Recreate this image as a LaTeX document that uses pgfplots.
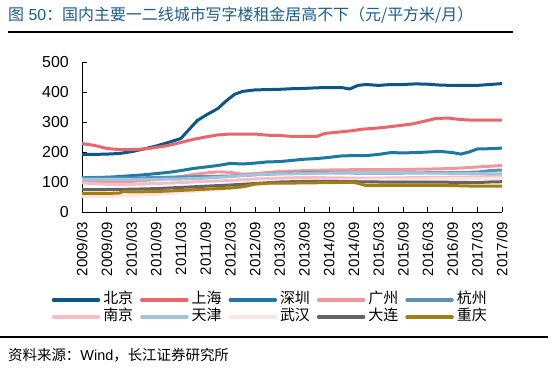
\documentclass[border=0pt]{standalone}
\usepackage{pgfplots}
\pgfplotsset{compat=1.18}
\usepackage{fontspec}
\setmainfont{Liberation Sans}
\newfontfamily\cjk{Noto Sans CJK SC}
\definecolor{cBJ}{HTML}{0D5688}
\definecolor{cSH}{HTML}{E9666B}
\definecolor{cSZ}{HTML}{1F78A4}
\definecolor{cGZ}{HTML}{F1979C}
\definecolor{cHZ}{HTML}{5D93B6}
\definecolor{cNJ}{HTML}{F6BDC5}
\definecolor{cTJ}{HTML}{A0C4DB}
\definecolor{cWH}{HTML}{FBE3E6}
\definecolor{cDL}{HTML}{646464}
\definecolor{cCQ}{HTML}{A57C10}
\definecolor{cTitle}{HTML}{1A5C8E}
\begin{document}
\begin{tikzpicture}
\useasboundingbox (-82bp,-159bp) rectangle (476bp,212bp);
\begin{axis}[
  at={(0,0)}, anchor=south west,
  scale only axis, width=420bp, height=150bp,
  xmin=0, xmax=102, ymin=0, ymax=500,
  axis lines=left, axis line style={-, line width=0.9bp, black},
  tick align=inside, major tick length=5bp,
  tick style={line width=0.8bp, black},
  xtick={0,6,...,102},
  xticklabels={2009/03,2009/09,2010/03,2010/09,2011/03,2011/09,2012/03,2012/09,2013/03,2013/09,2014/03,2014/09,2015/03,2015/09,2016/03,2016/09,2017/03,2017/09},
  ytick={0,100,...,500},
  /pgf/number format/assume math mode=true,
  x tick label style={rotate=90, anchor=east, inner sep=0pt, font=\fontsize{15}{15}\selectfont},
  xticklabel shift=10bp,
  y tick label style={anchor=east, inner sep=0pt, font=\fontsize{16}{16}\selectfont},
  yticklabel shift=13bp,
  legend columns=5,
  legend cell align=left,
  legend style={at={(-0.072,-0.533)}, anchor=north west, draw=none, fill=none,
    inner sep=0pt, outer sep=0pt, row sep=1bp,
    font=\cjk\fontsize{15}{15}\selectfont,
    nodes={inner xsep=0pt, inner ysep=1bp, text height=11bp, text depth=3bp},
    /tikz/every odd column/.append style={column sep=3bp},
    /tikz/every even column/.append style={column sep=7bp}},
  legend image code/.code={\draw[#1, line width=3.5bp] (0bp,0bp) -- (45bp,0bp);},
  every axis plot/.append style={line width=3bp, line join=round, line cap=round, mark=none},
]
% 北京
\addplot[cBJ] coordinates {(0,192)(3,192)(6,193)(9,195)(12,201)(15,210)(18,220)(21,232)(24,245)(26,275)(28,305)(30,322)(33,345)(35,370)(37,392)(39,402)(42,407)(45,408)(48,409)(51,411)(54,412)(57,414)(60,415)(63,415)(65,410)(67,422)(69,425)(72,422)(75,425)(78,425)(81,427)(84,426)(87,423)(90,422)(93,422)(96,422)(99,425)(102,428)};
% 上海
\addplot[cSH] coordinates {(0,228)(3,222)(6,212)(9,208)(12,208)(15,210)(18,215)(21,222)(24,232)(27,242)(30,250)(33,257)(36,260)(39,260)(42,260)(45,256)(48,255)(51,252)(54,252)(57,252)(59,262)(62,266)(65,270)(68,276)(71,279)(74,283)(77,288)(80,293)(83,302)(86,312)(89,313)(92,308)(95,306)(98,306)(102,306)};
% 深圳
\addplot[cSZ] coordinates {(0,114)(3,115)(6,116)(9,118)(12,121)(15,124)(18,128)(21,132)(24,138)(27,145)(30,150)(33,155)(36,162)(39,160)(42,163)(45,167)(48,168)(51,172)(54,176)(57,178)(60,182)(63,187)(66,188)(69,188)(72,192)(75,198)(78,197)(81,198)(84,200)(87,202)(90,198)(92,193)(94,200)(96,210)(99,211)(102,213)};
% 广州
\addplot[cGZ] coordinates {(0,100)(6,100)(12,102)(18,108)(24,118)(27,125)(30,130)(33,134)(36,132)(39,126)(42,128)(48,135)(54,138)(60,140)(66,141)(72,141)(78,142)(84,143)(90,145)(96,150)(102,155)};
% 杭州
\addplot[cHZ] coordinates {(0,113)(6,113)(12,113)(18,115)(24,117)(30,118)(36,120)(42,124)(48,128)(54,131)(60,131)(66,130)(72,130)(78,130)(84,131)(90,131)(96,133)(99,138)(102,140)};
% 南京
\addplot[cNJ] coordinates {(0,97)(6,92)(12,92)(18,95)(24,98)(30,102)(36,105)(42,110)(48,113)(54,115)(60,114)(66,113)(72,113)(78,114)(84,115)(90,116)(96,117)(102,119)};
% 天津
\addplot[cTJ] coordinates {(0,108)(6,108)(12,108)(18,109)(24,110)(30,113)(36,118)(42,125)(48,127)(54,128)(60,130)(66,131)(72,132)(78,131)(84,130)(90,129)(96,128)(102,127)};
% 武汉
\addplot[cWH] coordinates {(0,52)(6,52)(12,55)(18,58)(24,65)(30,72)(36,80)(42,90)(48,97)(54,102)(60,105)(66,106)(72,108)(78,109)(84,110)(90,111)(96,112)(102,113)};
% 大连
\addplot[cDL] coordinates {(0,75)(6,75)(12,76)(18,78)(24,82)(30,86)(36,90)(42,95)(48,100)(54,102)(60,102)(66,101)(72,100)(78,100)(84,100)(90,99)(96,98)(99,100)(102,101)};
% 重庆
\addplot[cCQ] coordinates {(0,62)(6,62)(9,63)(10,68)(12,67)(18,68)(24,72)(30,76)(36,80)(39,84)(42,93)(45,96)(48,96)(54,97)(60,98)(66,99)(68,92)(69,88)(72,89)(78,89)(84,89)(90,88)(96,86)(102,86)};
\legend{北京,上海,深圳,广州,杭州,南京,天津,武汉,大连,重庆}
\end{axis}
\node[anchor=west, inner sep=0pt, text=cTitle, font=\fontsize{16}{16}\selectfont] at (-74bp,197bp) {{\cjk 图} 50{\cjk ：国内主要一二线城市写字楼租金居高不下（元/平方米/月）}};
\draw[line width=2bp] (-74bp,180bp) -- (431bp,180bp);
\draw[line width=2bp] (-82bp,-125bp) -- (466bp,-125bp);
\node[anchor=west, inner sep=0pt, font=\fontsize{14.5}{14.5}\selectfont] at (-74bp,-143bp) {{\cjk 资料来源：}Wind{\cjk ，长江证券研究所}};
\end{tikzpicture}
\end{document}
